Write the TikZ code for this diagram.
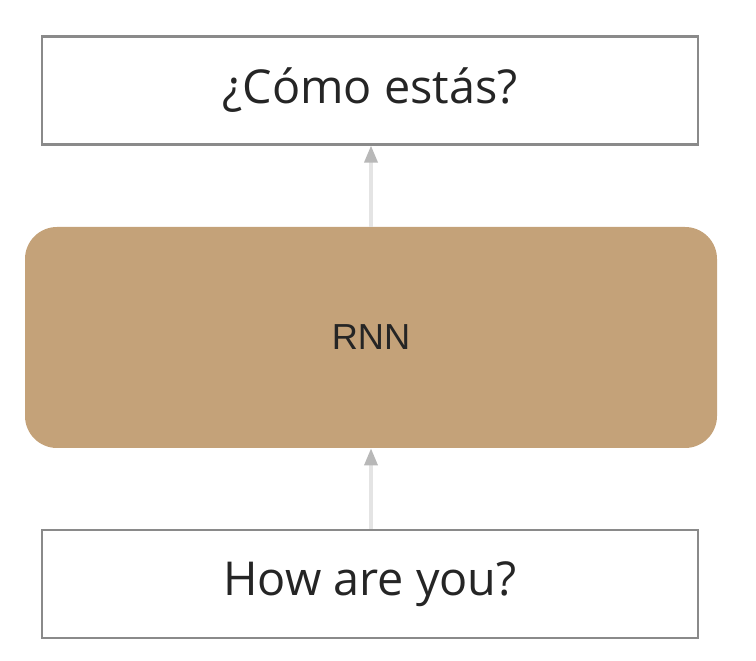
\documentclass[tikz,border=0pt]{standalone}
\usepackage[rgb]{xcolor}
\usepackage{fontspec}
\setmainfont{Open Sans}
\newfontfamily\rnnfont{Liberation Sans}
\usetikzlibrary{arrows.meta}

\definecolor{boxline}{HTML}{8A8A8A}
\definecolor{rnnfill}{HTML}{C4A279}
\definecolor{shaft}{HTML}{E4E4E4}
\definecolor{tipgray}{HTML}{B8B8B8}
\definecolor{textgray}{HTML}{252525}

\begin{document}
\begin{tikzpicture}[scale=1,
  textbox/.style={draw=boxline, line width=1.2pt, fill=white, text=textgray,
    minimum width=13.12cm, minimum height=2.16cm, inner sep=0pt,
    font=\fontsize{26.6}{30}\selectfont},
  rnnbox/.style={fill=rnnfill, rounded corners=0.64cm, text=textgray,
    minimum width=13.84cm, minimum height=4.42cm, inner sep=0pt,
    font=\rnnfont\fontsize{20.6}{24}\selectfont},
  flow/.style={shaft, line width=1.9pt,
    -{Triangle[length=0.34cm, width=0.26cm, color=tipgray]}}]

\useasboundingbox (0,0) rectangle (15.12,13.22);

% boxes, bottom to top
\node[textbox] (english) at (7.40,1.54) {How are you?};
\node[rnnbox] (rnn) at (7.42,6.47) {RNN};
\node[textbox] (spanish) at (7.40,11.41) {¿Cómo estás?};

%% connectors
\draw[flow] (english.north -| rnn.center) -- (rnn.south);
\draw[flow] (rnn.north) -- (spanish.south -| rnn.center);

\end{tikzpicture}
\end{document}
